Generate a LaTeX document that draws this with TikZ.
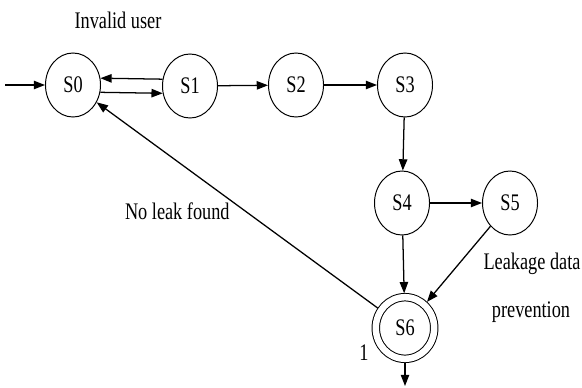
\documentclass[tikz,border=0pt]{standalone}
\usepackage{fontspec}
\setmainfont{Liberation Serif}
\usepackage{graphicx}
\usepackage{tikz}
\usetikzlibrary{shapes.geometric,arrows.meta}
\newcommand{\tallt}[1]{\scalebox{1}[1.3]{#1}}

\begin{document}
\begin{tikzpicture}[x=0.025cm,y=-0.025cm]
    \tikzstyle{every node} = [font=\rmfamily\fontsize{13}{15}\selectfont]
    \tikzstyle{state} = [draw, ellipse, line width=0.7pt, minimum width=1.375cm, minimum height=1.6cm, inner sep=0pt]
    \tikzstyle{final} = [state, double, double distance=4.6pt, minimum width=1.46cm, minimum height=1.54cm, outer sep=2.8pt]
    \tikzstyle{trans} = [-{Triangle[length=8pt,width=6pt]}, line width=0.9pt]
    \useasboundingbox (0,0) rectangle (582,387);
    % place nodes
    \node[state](S0) at (73,85){\tallt{S0}};
    \node[state](S1) at (190,86){\tallt{S1}};
    \node[state](S2) at (296,85){\tallt{S2}};
    \node[state](S3) at (405,85){\tallt{S3}};
    \node[state](S4) at (402,203){\tallt{S4}};
    \node[state](S5) at (510,203){\tallt{S5}};
    \node[final](S6) at (405,328){\tallt{S6}};
    \coordinate(start) at (5,85);
    \coordinate(stop) at (405,386);
    \node(invalid) at (118,20){\tallt{Invalid user}};
    \node(leakage) at (532,264){\tallt{Leakage data}};
    \node(prevention) at (531,312){\tallt{prevention}};
    \node(one) at (364,353){\tallt{1}};
    % Connections
    \draw[trans] (start)--(S0);
    \draw[trans] (S1.166)--(S0.14);
    \draw[trans] (S0.-15)--(S1.195);
    \draw[trans] (S1)--(S2);
    \draw[trans] (S2)--(S3);
    \draw[trans] (S3)--(S4);
    \draw[trans] (S4)--(S5);
    \draw[trans] (S4)--(S6);
    \draw[trans] (S5)--(S6);
    \draw[trans] (S6)--node[pos=0.52,anchor=north east,inner sep=1pt]{\tallt{No leak found}}(S0);
    \draw[trans] (S6)--(stop);
  \end{tikzpicture}
\end{document}
